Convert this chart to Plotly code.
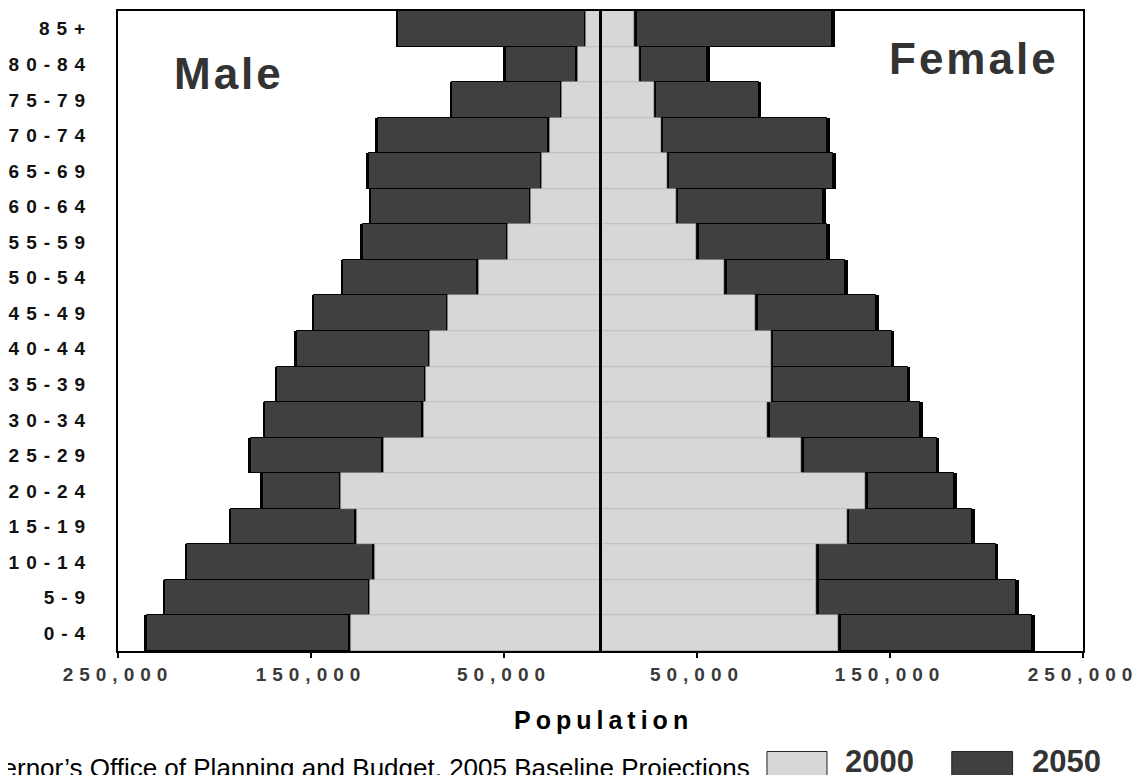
import plotly.graph_objects as go

# ---------------- data ----------------
age_groups = ["0-4", "5-9", "10-14", "15-19", "20-24", "25-29", "30-34", "35-39",
              "40-44", "45-49", "50-54", "55-59", "60-64", "65-69", "70-74",
              "75-79", "80-84", "85+"]
age_tick_labels = ["0-4", "5-9", "10-14", "15-19", "20-24", "25-29", "30-34",
                   "35-39", "40-44", "45-49", "50-54", "55-59", "60-64",
                   "65-69", "70-74", "75-79", "80-84", "85+"]

male_2000 = [129500, 119200, 117100, 126400, 134200, 112400, 91700, 90200, 88100,
             78800, 63200, 47700, 35800, 30100, 26400, 19700, 11900, 7300]
male_2050 = [235200, 225400, 214000, 191200, 175100, 181300, 173600, 167400, 157500,
             148200, 133200, 123300, 118700, 120200, 115500, 76700, 49200, 104700]
female_2000 = [123300, 111900, 111900, 127500, 137300, 104100, 86500, 88100, 88100,
               80300, 64200, 49700, 38900, 34200, 31100, 27500, 19700, 17600]
female_2050 = [223800, 215500, 204700, 192700, 183400, 174100, 165800, 159100, 150800,
               143000, 126900, 117600, 115500, 120700, 117600, 81900, 55400, 120200]

x_tick_values = [-250000, -150000, -50000, 50000, 150000, 250000]
x_tick_labels = ["250,000", "150,000", "50,000", "50,000", "150,000", "250,000"]

series_names = ["2000", "2050"]

# ---------------- style ----------------
LIGHT = "#d7d7d7"
DARK = "#404040"
SHADOW = 1300  # width of the black end-shadow, in data units


def spaced(text, px):
    return '<span style="letter-spacing:%dpx">%s</span>' % (px, text)


fig = go.Figure()


def add_pair(vals, sign, color, line_color, line_width, name):
    # black "shadow" bar slightly longer, drawn first
    fig.add_trace(go.Bar(
        y=age_groups, x=[sign * (v + SHADOW) for v in vals], orientation="h",
        marker=dict(color="black", line=dict(width=0)),
        showlegend=False, hoverinfo="skip"))
    fig.add_trace(go.Bar(
        y=age_groups, x=[sign * v for v in vals], orientation="h", name=name,
        marker=dict(color=color, line=dict(color=line_color, width=line_width)),
        showlegend=False))


add_pair(male_2050, -1, DARK, "black", 1, "Male " + series_names[1])
add_pair(female_2050, 1, DARK, "black", 1, "Female " + series_names[1])
add_pair(male_2000, -1, LIGHT, "#c4c4c4", 0.6, "Male " + series_names[0])
add_pair(female_2000, 1, LIGHT, "#c4c4c4", 0.6, "Female " + series_names[0])

fig.update_layout(
    width=1147, height=775,
    margin=dict(l=110, r=72, t=1, b=132),
    paper_bgcolor="white", plot_bgcolor="white",
    barmode="overlay", bargap=0,
    showlegend=False,
    font=dict(family="Liberation Sans, Arial, sans-serif", color="black"),
)

fig.update_xaxes(
    range=[-250000, 250000],
    tickmode="array", tickvals=x_tick_values,
    ticktext=[spaced(t, 6) for t in x_tick_labels],
    tickfont=dict(size=19, color="#3a3a3a", weight="bold"),
    ticks="outside", ticklen=5, tickwidth=2, tickcolor="black",
    ticklabelstandoff=0,
    showline=True, linecolor="black", linewidth=2, mirror=True,
    showgrid=False, zeroline=False,
    layer="above traces",
)
fig.update_yaxes(
    categoryorder="array", categoryarray=age_groups,
    tickmode="array", tickvals=age_groups,
    ticktext=[spaced(t, 7) for t in age_tick_labels],
    tickfont=dict(size=19, color="#111111", weight="bold"),
    ticks="", ticklabelstandoff=20,
    showline=True, linecolor="black", linewidth=2, mirror=True,
    showgrid=False,
)

# centre divider line (axis decoration at x = 0)
fig.add_shape(type="line", xref="x", yref="paper", x0=0, x1=0, y0=0, y1=1,
              line=dict(color="black", width=3), layer="above")

# Panel labels
fig.add_annotation(text=spaced("Male", 3), xref="paper", yref="paper",
                   x=0.056, y=0.902, xanchor="left", yanchor="middle", showarrow=False,
                   font=dict(size=44, color="#333333", weight="bold"))
fig.add_annotation(text=spaced("Female", 3), xref="paper", yref="paper",
                   x=0.977, y=0.925, xanchor="right", yanchor="middle", showarrow=False,
                   font=dict(size=44, color="#333333", weight="bold"))

# Axis title
fig.add_annotation(text=spaced("Population", 5), xref="paper", yref="paper",
                   x=0.503, y=-0.1075, xanchor="center", yanchor="middle", showarrow=False,
                   font=dict(size=25, color="black", weight="bold"))

# Source note (partly cut off on the left, as in the original)
fig.add_annotation(text="Source: Governor\u2019s Office of Planning and Budget, 2005 Baseline Projections",
                   xref="paper", yref="paper", x=0.657, y=-0.183,
                   xanchor="right", yanchor="middle", showarrow=False,
                   font=dict(size=26, color="black"))

# Custom legend
legend_items = [(series_names[0], LIGHT, 0.6725, 0.7347, 0.751),
                (series_names[1], DARK, 0.864, 0.927, 0.945)]
for name, col, x0, x1, xt in legend_items:
    fig.add_shape(type="rect", xref="paper", yref="paper", x0=x0, x1=x1,
                  y0=-0.2165, y1=-0.157, fillcolor=col,
                  line=dict(color="#222222", width=1))
    fig.add_annotation(text=name, xref="paper", yref="paper", x=xt, y=-0.172,
                       xanchor="left", yanchor="middle", showarrow=False,
                       font=dict(size=31, color="#333333", weight="bold"))

fig.write_html("out.html")
